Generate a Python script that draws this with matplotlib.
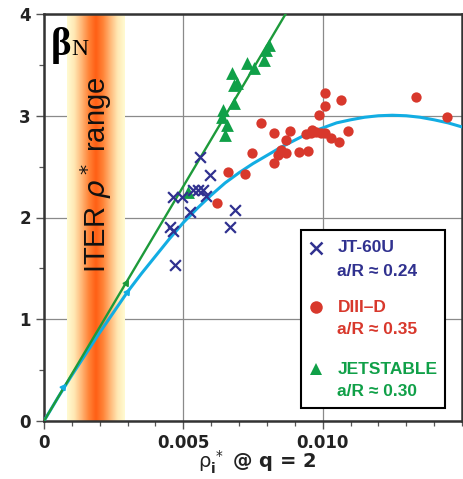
import numpy as np
import matplotlib
matplotlib.use("Agg")
import matplotlib.pyplot as plt
from matplotlib.colors import LinearSegmentedColormap
from matplotlib.patches import Rectangle

# 数据
jt60u_x = [0.00561, 0.00597, 0.00464, 0.00496, 0.00536, 0.00554, 0.00572, 0.00583,
           0.00525, 0.00687, 0.00669, 0.00453, 0.00464, 0.00471]
jt60u_y = [2.59, 2.42, 2.20, 2.20, 2.27, 2.27, 2.27, 2.21,
           2.05, 2.07, 1.91, 1.91, 1.87, 1.53]

diiid_x = [0.01007, 0.01065, 0.01007, 0.00986, 0.00777, 0.00827, 0.00881, 0.00867,
           0.00957, 0.00975, 0.00993, 0.01010, 0.01029, 0.01058, 0.01090, 0.00849,
           0.00838, 0.00870, 0.00914, 0.00946, 0.00824, 0.00748, 0.00662, 0.00723,
           0.00622, 0.01335, 0.01446, 0.00940, 0.00960]
diiid_y = [3.22, 3.15, 3.10, 3.01, 2.93, 2.83, 2.85, 2.76,
           2.83, 2.84, 2.83, 2.83, 2.78, 2.74, 2.85, 2.66,
           2.61, 2.63, 2.64, 2.65, 2.54, 2.63, 2.45, 2.43,
           2.14, 3.18, 2.99, 2.82, 2.86]

jet_x = [0.00806, 0.00795, 0.00788, 0.00730, 0.00752, 0.00676, 0.00694, 0.00683,
         0.00683, 0.00644, 0.00640, 0.00658, 0.00651, 0.00518]
jet_y = [3.70, 3.65, 3.55, 3.52, 3.47, 3.42, 3.32, 3.30,
         3.13, 3.06, 2.99, 2.91, 2.81, 2.25]

# 拟合曲线（每 0.0005 读一个点）
fit_x = [0, 0.0005, 0.001, 0.0015, 0.002, 0.0025, 0.003, 0.0035, 0.004, 0.0045,
         0.005, 0.0055, 0.006, 0.0065, 0.007, 0.0075, 0.008, 0.0085, 0.009, 0.0095,
         0.010, 0.0105, 0.011, 0.0115, 0.012, 0.0125, 0.013, 0.0135, 0.014, 0.0145,
         0.015]
fit_y = [0, 0.23, 0.45, 0.66, 0.87, 1.07, 1.27, 1.45, 1.62, 1.79,
         1.95, 2.09, 2.22, 2.34, 2.44, 2.53, 2.61, 2.69, 2.76, 2.83,
         2.88, 2.93, 2.96, 2.985, 3.00, 3.005, 3.00, 2.985, 2.96, 2.93,
         2.89]
jet_line_x = [0, 0.00867]
jet_line_y = [0, 4.0]

# 线上的小箭头标记
fit_marks = [(0.00068, 0.33), (0.00299, 1.27)]
jet_marks = [(0.00295, 1.36)]

iter_range = (0.00083, 0.00291)

c_blue = '#30318f'
c_red = '#d8382c'
c_green = '#10a048'
c_gline = '#1d9a3a'
c_cyan = '#12ade3'

fig = plt.figure(figsize=(4.63, 4.79), dpi=100)
ax = fig.add_axes([44 / 463, 58 / 479, 418 / 463, 407 / 479])
ax.set_xlim(0, 0.015)
ax.set_ylim(0, 4)

# 网格和刻度
ax.set_xticks([0, 0.005, 0.010])
ax.set_xticklabels(['0', '0.005', '0.010'])
ax.set_yticks([0, 1, 2, 3, 4])
ax.set_xticks(np.arange(0, 0.0151, 0.001), minor=True)
ax.set_yticks(np.arange(0, 4.01, 0.5), minor=True)
ax.grid(True, which='major', color='#8a8a8a', lw=0.9, zorder=0)
ax.set_axisbelow(True)
ax.tick_params(which='major', direction='out', length=6, width=1.0, color='#555',
               labelsize=12, labelcolor='#222')
ax.tick_params(which='minor', direction='out', length=3.5, width=0.9, color='#555')
for lab in ax.get_xticklabels() + ax.get_yticklabels():
    lab.set_fontweight('bold')
for sp in ax.spines.values():
    sp.set_linewidth(1.8)
    sp.set_color('#333')

# ITER 范围色带
cmap = LinearSegmentedColormap.from_list(
    'iter', ['#fffbd2', '#ffe8b4', '#ffb878', '#ff8438', '#ff5f14',
             '#ff8438', '#ffb878', '#ffe8b4', '#fffbd2'])
grad = np.linspace(0, 1, 256).reshape(1, -1)
ax.imshow(grad, cmap=cmap, aspect='auto', extent=[iter_range[0], iter_range[1], 0, 4],
          zorder=1, interpolation='bicubic')
ax.text((iter_range[0] + iter_range[1]) / 2, 2.42, r'ITER $\rho^*$ range', rotation=90,
        ha='center', va='center', fontsize=21, color='#111', zorder=2,
        family=['Liberation Sans', 'DejaVu Sans'])

# 曲线
ax.plot(fit_x, fit_y, color=c_cyan, lw=2.2, zorder=3, solid_capstyle='round')
ax.plot(jet_line_x, jet_line_y, color=c_gline, lw=1.7, zorder=3)
for mx, my in fit_marks:
    ax.plot(mx, my, marker=(3, 0, -35), ms=5, color=c_cyan, zorder=3)
for mx, my in jet_marks:
    ax.plot(mx, my, marker=(3, 0, -31), ms=5, color=c_gline, zorder=3)

# 数据点
ax.scatter(diiid_x, diiid_y, s=55, color=c_red, lw=0, zorder=4)
ax.scatter(jt60u_x, jt60u_y, s=60, marker='x', color=c_blue, lw=1.6, zorder=5)
ax.scatter(jet_x, jet_y, s=85, marker='^', color=c_green, lw=0, zorder=4)

# βN 标签（正体衬线）
ax.text(0.00025, 3.60, '\u03b2', fontsize=28, fontweight='bold', va='baseline',
        ha='left', family=['Liberation Serif', 'DejaVu Serif'], zorder=6)
ax.text(0.00099, 3.60, 'N', fontsize=17, va='baseline', ha='left',
        family=['Liberation Serif', 'DejaVu Serif'], zorder=6)

# x 轴标签
fig.text(0.555, 0.022, r'$\mathrm{\rho}_\mathbf{i}^{\,*}$ @ q = 2', fontsize=14,
         fontweight='bold', color='#222', ha='center', va='baseline')

# 图例（手动绘制）
legend_font = ['Liberation Sans Narrow', 'Liberation Sans', 'DejaVu Sans']
box_x0, box_y0 = (301 - 44) / 418, (421 - 408) / 407
box_w, box_h = (445 - 301) / 418, (408 - 230) / 407
ax.add_patch(Rectangle((box_x0, box_y0), box_w, box_h, transform=ax.transAxes,
                       facecolor='white', edgecolor='black', lw=1.5, zorder=7))


def ax_pos(px, py):
    return (px - 44) / 418, (421 - py) / 407


entries = [
    ('x', c_blue, 'JT-60U', 'a/R \u2248 0.24', 248, 272),
    ('o', c_red, 'DIII\u2013D', 'a/R \u2248 0.35', 307, 330),
    ('^', c_green, 'JETSTABLE', 'a/R \u2248 0.30', 369, 392),
]
for mk, col, name, ratio, y1, y2 in entries:
    mx, my = ax_pos(316, y1)
    if mk == 'x':
        ax.plot(mx, my, marker='x', ms=8, mew=1.8, color=col, transform=ax.transAxes,
                zorder=8, clip_on=False)
    else:
        ax.plot(mx, my, marker=mk, ms=9, mew=0, color=col, transform=ax.transAxes,
                zorder=8, clip_on=False)
    tx, ty = ax_pos(338, y1)
    ax.text(tx, ty, name, transform=ax.transAxes, color=col, fontsize=12.5,
            fontweight='bold', va='center', ha='left', family=legend_font, zorder=8)
    tx, ty = ax_pos(337, y2)
    ax.text(tx, ty, ratio, transform=ax.transAxes, color=col, fontsize=12.5,
            fontweight='bold', va='center', ha='left', family=legend_font, zorder=8)

fig.savefig('out.png', dpi=100)
